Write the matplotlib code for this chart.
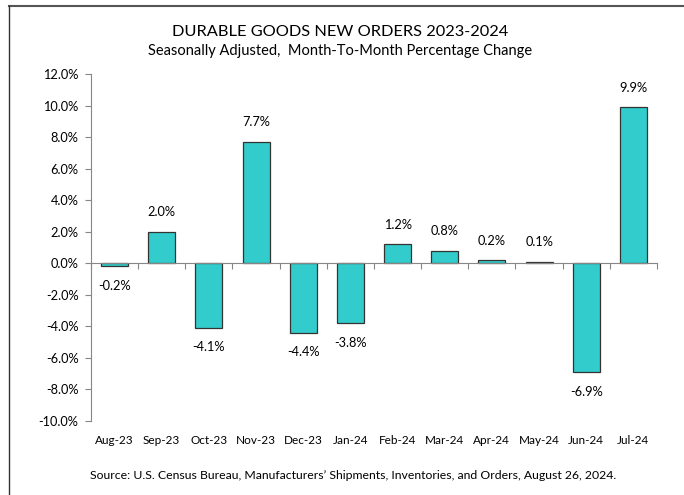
import matplotlib
matplotlib.use('Agg')
import matplotlib.pyplot as plt
import numpy as np
from matplotlib.lines import Line2D

plt.rcParams['font.family'] = ['Lato', 'DejaVu Sans']

months = ['Aug-23', 'Sep-23', 'Oct-23', 'Nov-23', 'Dec-23', 'Jan-24',
          'Feb-24', 'Mar-24', 'Apr-24', 'May-24', 'Jun-24', 'Jul-24']
pct_change = [-0.2, 2.0, -4.1, 7.7, -4.4, -3.8, 1.2, 0.8, 0.2, 0.1, -6.9, 9.9]
y_ticks = np.arange(-10, 12.1, 2)

fig = plt.figure(figsize=(6.84, 4.95), dpi=100)
ax = fig.add_axes([0.133, 0.1495, 0.8275, 0.701])

x = np.arange(len(months))
bars = ax.bar(x, pct_change, width=0.57, color='#33CCCC', edgecolor='#333333', linewidth=0.9)

for xi, v in zip(x, pct_change):
    off = 14 if v >= 0 else -14
    ax.annotate(f'{v:.1f}%', (xi, v), xytext=(0, off), textcoords='offset points',
                ha='center', va='center', fontsize=9.2)

ax.set_xlim(-0.5, len(months) - 0.5)
ax.set_ylim(-10, 12)
ax.set_yticks(y_ticks)
ax.set_yticklabels([f'{t:.1f}%' for t in y_ticks])
ax.tick_params(axis='y', length=4, width=0.8, color='#868686', labelsize=9.2, pad=5)

for s in ['top', 'right']:
    ax.spines[s].set_visible(False)
ax.spines['left'].set_color('#868686')
ax.spines['bottom'].set_color('#868686')
ax.spines['bottom'].set_position(('data', 0))
ax.set_xticks(np.arange(-0.5, len(months), 1))
ax.set_xticklabels([])
ax.tick_params(axis='x', length=4, width=0.8, color='#868686')

sec = ax.secondary_xaxis(0.0)
sec.set_xticks(x, months)
sec.tick_params(length=0, labelsize=8.5, pad=10)
sec.spines['bottom'].set_visible(False)

fig.text(0.497, 0.935, 'DURABLE GOODS NEW ORDERS 2023-2024', ha='center', va='center', fontsize=11.8)
fig.text(0.497, 0.897, 'Seasonally Adjusted,  Month-To-Month Percentage Change', ha='center', va='center', fontsize=10.5)
fig.text(0.516, 0.040, 'Source: U.S. Census Bureau, Manufacturers\u2019 Shipments, Inventories, and Orders, August 26, 2024.',
         ha='center', va='center', fontsize=8.8)

# chart frame (top and left edges visible)
fig.add_artist(Line2D([0.0135, 1.0], [0.988, 0.988], transform=fig.transFigure, color='#555555', lw=1.5))
fig.add_artist(Line2D([0.0135, 0.0135], [0.0, 0.988], transform=fig.transFigure, color='#333333', lw=1.0))

fig.savefig('out.png', dpi=100)
